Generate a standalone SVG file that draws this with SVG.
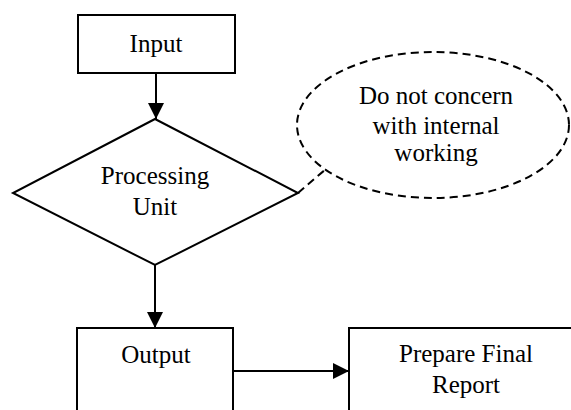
<svg xmlns="http://www.w3.org/2000/svg" width="571" height="410" viewBox="0 0 571 410">
<style>
.box{fill:#fff;stroke:#000;stroke-width:2}
.dash{fill:none;stroke:#000;stroke-width:2;stroke-dasharray:8 5}
.line{fill:none;stroke:#000;stroke-width:2}
.t{font-family:"Liberation Serif", serif;font-size:25px;fill:#000;text-anchor:middle}
</style>
<defs>
<marker id="arr" viewBox="0 0 16 16" refX="16" refY="8" markerWidth="16" markerHeight="16" markerUnits="userSpaceOnUse" orient="auto">
<path d="M0,0 L16,8 L0,16 Z" fill="#000"/>
</marker>
</defs>
<rect width="571" height="410" fill="#fff"/>
<g id="connectors">
<line class="line" x1="156" y1="73" x2="156" y2="119" marker-end="url(#arr)"/>
<line class="line" x1="155" y1="265" x2="155" y2="328" marker-end="url(#arr)"/>
<line class="line" x1="233" y1="371" x2="349" y2="371" marker-end="url(#arr)"/>
<line class="dash" x1="298" y1="193" x2="326" y2="169"/>
</g>
<g id="input">
<rect class="box" x="78" y="15" width="157" height="58"/>
<text class="t" style="font-family:'Liberation Serif',serif" x="156" y="52">Input</text>
</g>
<g id="processing">
<polygon class="box" points="155,119 298,193 155,265 13,193"/>
<text class="t" style="font-family:'Liberation Serif',serif" x="155" y="184">Processing</text>
<text class="t" style="font-family:'Liberation Serif',serif" x="155" y="215">Unit</text>
</g>
<g id="note">
<ellipse class="dash" cx="433" cy="125" rx="136" ry="73"/>
<text class="t" style="font-family:'Liberation Serif',serif" x="436" y="104">Do not concern</text>
<text class="t" style="font-family:'Liberation Serif',serif" x="436" y="134">with internal</text>
<text class="t" style="font-family:'Liberation Serif',serif" x="436" y="161">working</text>
</g>
<g id="output">
<rect class="box" x="77" y="328" width="156" height="100"/>
<text class="t" style="font-family:'Liberation Serif',serif" x="156" y="363">Output</text>
</g>
<g id="report">
<rect class="box" x="349" y="328" width="240" height="100"/>
<text class="t" style="font-family:'Liberation Serif',serif" x="466" y="362">Prepare Final</text>
<text class="t" style="font-family:'Liberation Serif',serif" x="466" y="393">Report</text>
</g>
</svg>
